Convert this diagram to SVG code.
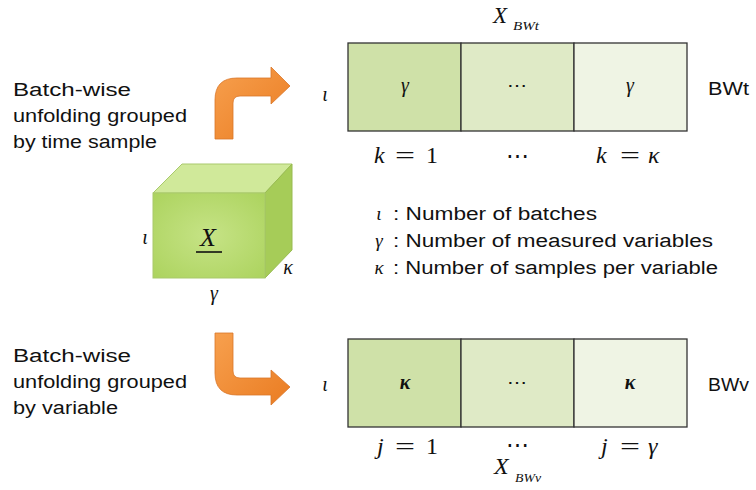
<svg xmlns="http://www.w3.org/2000/svg" width="756" height="490" viewBox="0 0 756 490">
<defs>
<style>
.t{font-family:"Liberation Sans",Arial,sans-serif;font-size:18px;fill:#111}
.m{font-family:"Liberation Serif","Times New Roman",serif;font-style:italic;fill:#111}
.r{font-family:"Liberation Serif","Times New Roman",serif;fill:#111}
.cell{stroke:#333;stroke-width:1.3}
.arrow{fill:url(#og);stroke:#d9762a;stroke-width:0.8}
</style>
<linearGradient id="og" x1="0" y1="0" x2="1" y2="1">
<stop offset="0" stop-color="#f7a04e"/>
<stop offset="1" stop-color="#ea7c22"/>
</linearGradient>
<radialGradient id="front" cx="0.5" cy="0.5" r="0.7">
<stop offset="0" stop-color="#c6e386"/>
<stop offset="1" stop-color="#acd35e"/>
</radialGradient>
</defs>

<g id="left-labels">
<text class="t" x="13" y="96" textLength="118" lengthAdjust="spacingAndGlyphs">Batch-wise</text>
<text class="t" x="13" y="122" textLength="174" lengthAdjust="spacingAndGlyphs">unfolding grouped</text>
<text class="t" x="13" y="148" textLength="144" lengthAdjust="spacingAndGlyphs">by time sample</text>
<text class="t" x="13" y="362" textLength="118" lengthAdjust="spacingAndGlyphs">Batch-wise</text>
<text class="t" x="13" y="388" textLength="174" lengthAdjust="spacingAndGlyphs">unfolding grouped</text>
<text class="t" x="13" y="414" textLength="105" lengthAdjust="spacingAndGlyphs">by variable</text>
</g>

<g id="cube">
<polygon points="153,193 182,164 292,164 265,193" fill="#d0e99a" stroke="#a9c96c" stroke-width="1"/>
<polygon points="265,193 292,164 292,250 265,278" fill="#a6cc58" stroke="#98bb50" stroke-width="1"/>
<rect x="153" y="193" width="112" height="85" fill="url(#front)" stroke="#a9c96c" stroke-width="1"/>
<text class="m" x="208" y="246" font-size="26" text-anchor="middle">X</text>
<line x1="196" y1="252" x2="222" y2="252" stroke="#111" stroke-width="1.6"/>
<text class="m" x="145" y="244" font-size="20" text-anchor="middle">ι</text>
<text class="m" x="288" y="274" font-size="20" text-anchor="middle">κ</text>
<text class="m" x="214" y="300" font-size="20" text-anchor="middle">γ</text>
</g>

<g id="connectors">
<path class="arrow" d="M215,139 L215,100 Q215,78 237,78 L271,78 L271,67 L290,86 L271,104 L271,96 L240,96 Q233,96 233,103 L233,139 Z"/>
<path class="arrow" d="M215,333 L215,373 Q215,395 237,395 L271,395 L271,405 L290,387 L271,370 L271,378 L240,378 Q233,378 233,371 L233,333 Z"/>
</g>

<g id="bwt">
<text class="m" x="493" y="23" font-size="23">X</text>
<text class="m" x="513" y="30" font-size="12" textLength="26" lengthAdjust="spacingAndGlyphs">BWt</text>
<rect class="cell" x="348" y="43" width="113" height="88" fill="#cfe1a8"/>
<rect class="cell" x="461" y="43" width="113" height="88" fill="#dfeac6"/>
<rect class="cell" x="574" y="43" width="113" height="88" fill="#eff4e4"/>
<text class="m" x="405" y="92" font-size="20" text-anchor="middle">γ</text>
<text class="r" x="517" y="92" font-size="20" text-anchor="middle">⋯</text>
<text class="m" x="630" y="92" font-size="20" text-anchor="middle">γ</text>
<text class="m" x="325" y="101" font-size="20" text-anchor="middle">ι</text>
<text class="t" x="708" y="95" textLength="41" lengthAdjust="spacingAndGlyphs">BWt</text>
<text class="m" x="374" y="163" font-size="24">k</text>
<text class="r" x="395" y="163" font-size="24" textLength="20" lengthAdjust="spacingAndGlyphs">=</text>
<text class="r" x="426" y="163" font-size="24">1</text>
<text class="r" x="517" y="163" font-size="23" text-anchor="middle">⋯</text>
<text class="m" x="596" y="163" font-size="24">k</text>
<text class="r" x="620" y="163" font-size="24" textLength="20" lengthAdjust="spacingAndGlyphs">=</text>
<text class="m" x="648" y="163" font-size="24">κ</text>
</g>

<g id="legend">
<text class="m" x="379" y="220" font-size="19" text-anchor="middle">ι</text>
<text class="t" x="393" y="220" textLength="204" lengthAdjust="spacingAndGlyphs">: Number of batches</text>
<text class="m" x="379" y="247" font-size="19" text-anchor="middle">γ</text>
<text class="t" x="393" y="247" textLength="320" lengthAdjust="spacingAndGlyphs">: Number of measured variables</text>
<text class="m" x="379" y="274" font-size="19" text-anchor="middle">κ</text>
<text class="t" x="393" y="274" textLength="325" lengthAdjust="spacingAndGlyphs">: Number of samples per variable</text>
</g>

<g id="bwv">
<rect class="cell" x="348" y="339" width="113" height="88" fill="#cfe1a8"/>
<rect class="cell" x="461" y="339" width="113" height="88" fill="#dfeac6"/>
<rect class="cell" x="574" y="339" width="113" height="88" fill="#eff4e4"/>
<text class="m" x="405" y="389" font-size="20" text-anchor="middle" font-weight="bold">κ</text>
<text class="r" x="517" y="389" font-size="20" text-anchor="middle">⋯</text>
<text class="m" x="630" y="389" font-size="20" text-anchor="middle" font-weight="bold">κ</text>
<text class="m" x="325" y="391" font-size="20" text-anchor="middle">ι</text>
<text class="t" x="708" y="391" textLength="41" lengthAdjust="spacingAndGlyphs">BWv</text>
<text class="m" x="377" y="454" font-size="24">j</text>
<text class="r" x="395" y="454" font-size="24" textLength="20" lengthAdjust="spacingAndGlyphs">=</text>
<text class="r" x="426" y="454" font-size="24">1</text>
<text class="r" x="517" y="452" font-size="23" text-anchor="middle">⋯</text>
<text class="m" x="601" y="454" font-size="24">j</text>
<text class="r" x="620" y="454" font-size="24" textLength="20" lengthAdjust="spacingAndGlyphs">=</text>
<text class="m" x="648" y="454" font-size="24">γ</text>
<text class="m" x="494" y="474" font-size="24">X</text>
<text class="m" x="515" y="482" font-size="12" textLength="26" lengthAdjust="spacingAndGlyphs">BWv</text>
</g>
</svg>
